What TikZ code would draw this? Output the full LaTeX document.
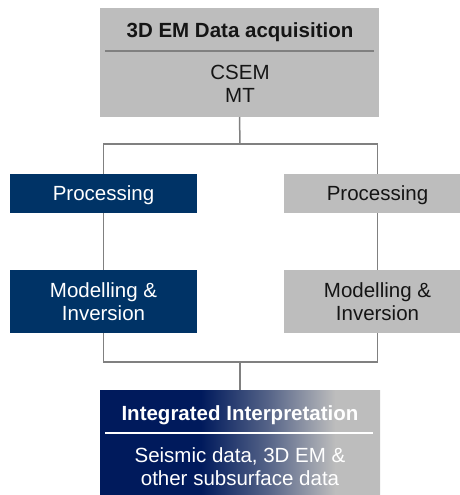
\documentclass[tikz,border=0pt]{standalone}
\usepackage{fontspec}
\setmainfont{Liberation Sans}
\definecolor{navy}{HTML}{003366}
\definecolor{deepnavy}{HTML}{001A5C}
\definecolor{boxgrey}{HTML}{BDBDBD}
\definecolor{linegrey}{HTML}{808080}
\definecolor{inkdark}{HTML}{151515}
% navy on the left fading into grey on the right
% (the path spans 25bp..75bp of the declared shading)
\pgfdeclarehorizontalshading{navytogrey}{100bp}{%
  color(0bp)=(deepnavy); color(43bp)=(deepnavy);
  color(55bp)=(deepnavy!55!boxgrey); color(67bp)=(boxgrey); color(100bp)=(boxgrey)}
\begin{document}
\begin{tikzpicture}[x=1pt,y=-1pt,
  txt/.style={align=center,text depth=0pt,font=\fontsize{20.5}{22.5}\selectfont},
  panel/.style={txt,draw=none,inner sep=0pt,outer sep=0pt,anchor=north west},
  greypanel/.style={panel,fill=boxgrey,text=inkdark},
  navypanel/.style={panel,fill=navy,text=white},
  label/.style={txt,inner sep=0pt},
  heading/.style={label,font=\fontsize{20.5}{22.5}\selectfont\bfseries},
  link/.style={draw=linegrey,line width=1.5pt},
  rule/.style={line width=1.5pt}]
\useasboundingbox (0,0) rectangle (460,495);

% acquisition panel
\node[greypanel,minimum width=279pt,minimum height=109pt] (acq) at (100,8) {};
\node[heading,text=inkdark] (acqtitle) at (240,30) {3D EM Data acquisition};
\draw[rule,draw=linegrey] (105,51) -- (374,51);
\node[label,text=inkdark] (acqlist) at (240,84) {CSEM\\MT};

% branch boxes
\node[navypanel,minimum width=187pt,minimum height=39pt] (procL) at (10,174) {Processing};
\node[greypanel,minimum width=187pt,minimum height=39pt] (procR) at (284,174) {Processing};
\node[navypanel,minimum width=187pt,minimum height=63pt] (modL) at (10,270) {Modelling \&\\Inversion};
\node[greypanel,minimum width=187pt,minimum height=63pt] (modR) at (284,270) {Modelling \&\\Inversion};

% interpretation panel
\node[panel,shading=navytogrey,minimum width=280pt,minimum height=110pt] (integ) at (100,390) {};
\node[heading,text=white] (integtitle) at (240,413) {Integrated Interpretation};
\draw[rule,draw=white] (105,433) -- (373,433);
\node[label,text=white] (integlist) at (240,466.5) {Seismic data, 3D EM \&\\other subsurface data};

% junction points
\coordinate (split) at (240,144);
\coordinate (merge) at (240,362);

% connectors
\draw[link] (acq.south) -- (split);
\draw[link] (split) -| (procL.north);
\draw[link] (split) -| (procR.north);
\draw[link] (procL.south) -- (modL.north);
\draw[link] (procR.south) -- (modR.north);
\draw[link] (modL.south) |- (merge);
\draw[link] (modR.south) |- (merge);
\draw[link] (merge) -- (integ.north);
\end{tikzpicture}
\end{document}
